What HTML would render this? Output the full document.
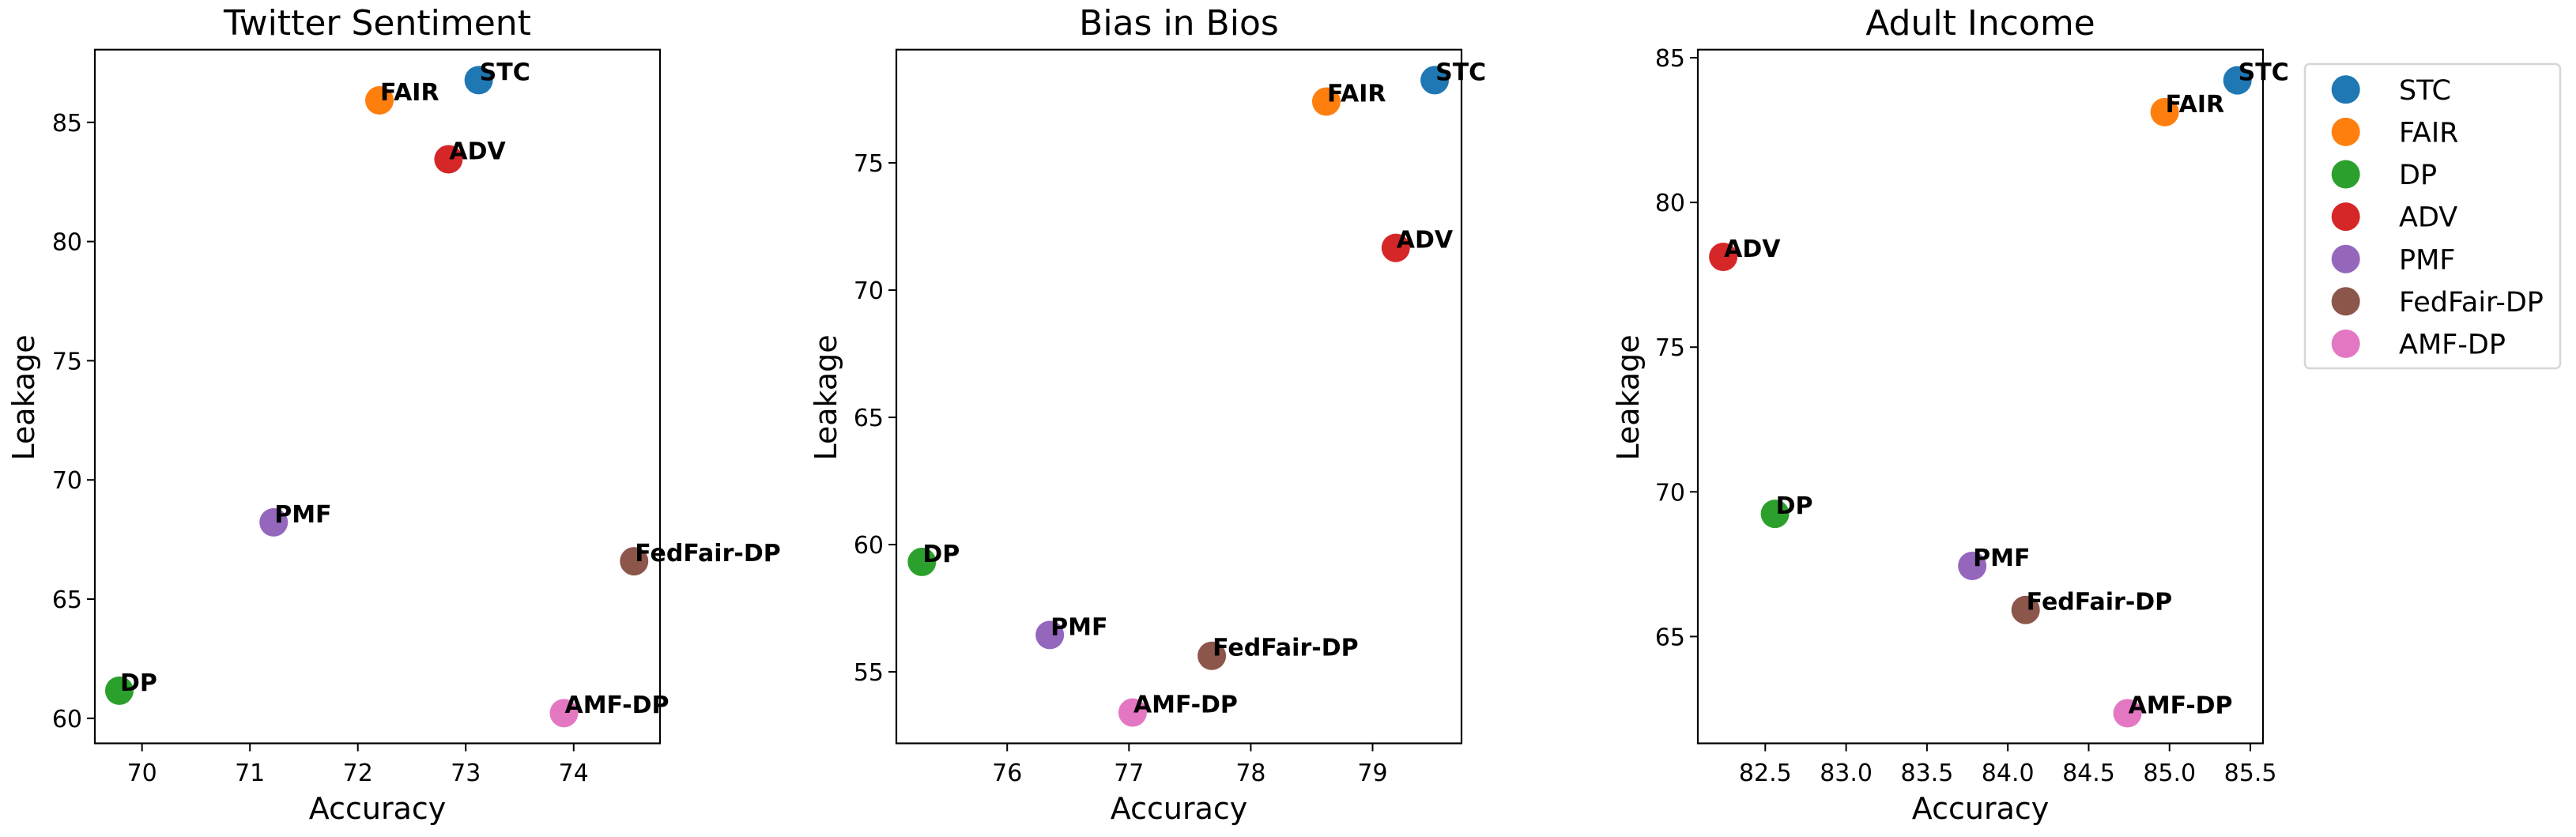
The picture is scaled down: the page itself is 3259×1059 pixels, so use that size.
<!DOCTYPE html>
<html><head><meta charset="utf-8"><style>
body{margin:0;background:#fff}
svg{display:block;font-family:"DejaVu Sans","Liberation Sans",sans-serif}
</style></head><body>
<svg id="fig" width="3259" height="1059" viewBox="0 0 3259 1059" xmlns="http://www.w3.org/2000/svg"></svg>
<script>
const methods = ["STC","FAIR","DP","ADV","PMF","FedFair-DP","AMF-DP"];
const colors = ["#1f77b4","#ff7f0e","#2ca02c","#d62728","#9467bd","#8c564b","#e377c2"];
const titles = ["Twitter Sentiment","Bias in Bios","Adult Income"];
const twitterAcc = [73.12,72.20,69.79,72.84,71.22,74.56,73.91];
const twitterLeak = [86.77,85.92,61.16,83.45,68.22,66.59,60.22];
const biosAcc = [79.51,78.62,75.30,79.19,76.35,77.68,77.03];
const biosLeak = [78.25,77.41,59.32,71.66,56.45,55.63,53.40];
const adultAcc = [85.42,84.97,82.56,82.24,83.78,84.11,84.74];
const adultLeak = [84.22,83.12,69.24,78.12,67.44,65.92,62.35];
const twitterXTicks = [70,71,72,73,74];
const twitterYTicks = [60,65,70,75,80,85];
const biosXTicks = [76,77,78,79];
const biosYTicks = [55,60,65,70,75];
const adultXTicks = [82.5,83.0,83.5,84.0,84.5,85.0,85.5];
const adultYTicks = [65,70,75,80,85];
const twitterXLim = [69.563,74.80], twitterYLim = [58.95,88.05];
const biosXLim = [75.09,79.73], biosYLim = [52.19,79.45];
const adultXLim = [82.083,85.578], adultYLim = [61.31,85.28];

const NS = "http://www.w3.org/2000/svg";
const svg = document.getElementById('fig');
function mk(tag, attrs, parent){const e=document.createElementNS(NS,tag);for(const k in attrs)e.setAttribute(k,attrs[k]);(parent||svg).appendChild(e);return e;}

const panels = [
 {key:"twitter",left:120,acc:twitterAcc,leak:twitterLeak,xt:twitterXTicks,yt:twitterYTicks,xl:twitterXLim,yl:twitterYLim,dec:0},
 {key:"bios",left:1134,acc:biosAcc,leak:biosLeak,xt:biosXTicks,yt:biosYTicks,xl:biosXLim,yl:biosYLim,dec:0},
 {key:"adult",left:2148,acc:adultAcc,leak:adultLeak,xt:adultXTicks,yt:adultYTicks,xl:adultXLim,yl:adultYLim,dec:1}
];
const W=715, TOP=62.8, BOT=940.5;
panels.forEach((p,pi)=>{
  const g = mk('g',{});
  
  
  const xs = v => p.left + (v-p.xl[0])/(p.xl[1]-p.xl[0])*W;
  const ys = v => BOT - (v-p.yl[0])/(p.yl[1]-p.yl[0])*(BOT-TOP);
  const cx = p.left + W/2;
  const t = mk('text',{x:cx,y:44,'text-anchor':'middle','font-size':44},g);
  t.textContent = titles[pi];
  
  
  p.xt.forEach(v=>{
    const x=xs(v);
    mk('line',{x1:x,x2:x,y1:BOT,y2:BOT+10,stroke:'#000','stroke-width':2},g);
    const tl=mk('text',{x:x,y:988,'text-anchor':'middle','font-size':30},g);
    tl.textContent = v.toFixed(p.dec);
    
    
  });
  p.yt.forEach(v=>{
    const y=ys(v);
    mk('line',{x1:p.left-10,x2:p.left,y1:y,y2:y,stroke:'#000','stroke-width':2},g);
    const tl=mk('text',{x:p.left-16,y:y+11,'text-anchor':'end','font-size':30},g);
    tl.textContent = v;
    
    
  });
  const xl=mk('text',{x:cx,y:1036,'text-anchor':'middle','font-size':38},g);
  xl.textContent='Accuracy';
  
  
  const ylx = [43,1058,2073][pi];
  const yl=mk('text',{x:ylx,y:503,'text-anchor':'middle','font-size':38,transform:`rotate(-90 ${ylx} 503)`},g);
  yl.textContent='Leakage';
  
  
  methods.forEach((m,i)=>{
    const x=xs(p.acc[i]), y=ys(p.leak[i]);
    const c=mk('circle',{cx:x,cy:y,r:18,fill:colors[i]},g);
    
    
    const lb=mk('text',{x:x+1,y:y,'font-size':30,'font-weight':'bold'},g);
    lb.textContent=m;
    
    
  });
  const fr=mk('rect',{x:p.left,y:TOP,width:W,height:BOT-TOP,fill:'none',stroke:'#000','stroke-width':2.2},g);
  
  
});
const lg = mk('g',{});


mk('rect',{x:2916,y:81,width:323,height:385,rx:6,fill:'#fff',stroke:'#d6d6d6','stroke-width':2.5},lg);
methods.forEach((m,i)=>{
  const y=113.3+i*53.6;
  const c=mk('circle',{cx:2967.7,cy:y,r:18,fill:colors[i]},lg);
  
  
  const t=mk('text',{x:3035,y:y+12.6,'font-size':35},lg);
  t.textContent=m;
  
  
});
</script>
</body></html>
